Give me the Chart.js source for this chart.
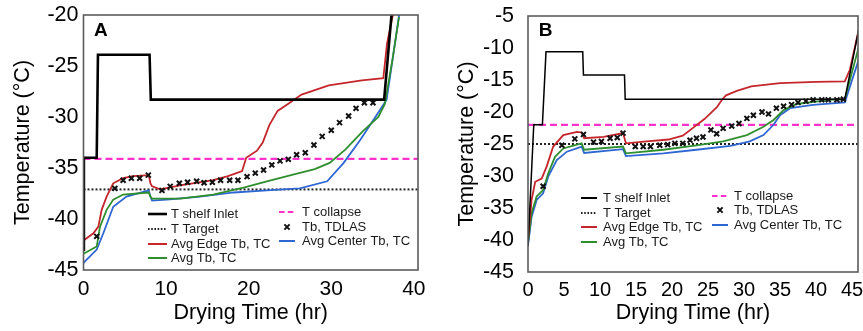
<!DOCTYPE html>
<html><head><meta charset="utf-8">
<script src="https://cdn.jsdelivr.net/npm/chart.js@4.4.1/dist/chart.umd.min.js"></script>
<style>
html,body{margin:0;padding:0;background:#fff;overflow:hidden;width:863px;height:331px;}
canvas{position:absolute;top:0;}
#ca{left:0;width:430px;height:331px;}
#cb{left:430px;width:445px;height:331px;}
</style></head><body>
<canvas id="ca" width="430" height="331"></canvas>
<canvas id="cb" width="445" height="331"></canvas>
<script>
// ---------- Panel A data ----------
const aTicksX = [0, 10, 20, 30, 40];
const aTicksY = [-45, -40, -35, -30, -25, -20];
const aShelfX = [0, 0.05, 1.6, 1.75, 8.0, 8.15, 36.4, 37.4];
const aShelfY = [-43, -34.0, -34.0, -23.9, -23.9, -28.3, -28.3, -19];
const aTargetX = [0, 40.5];
const aTargetY = [-37.1, -37.1];
const aCollapseX = [0, 40.5];
const aCollapseY = [-34.1, -34.1];
const aEdgeX = [0, 1.2, 1.8, 2.2, 2.8, 3.6, 4.8, 6.0, 7.9, 8.1, 8.3, 9.3, 11.7, 15.7, 17.5, 19.2, 19.7, 21.0, 21.7, 22.5, 23.5, 24.8, 26.4, 29.7, 33.7, 36.3, 36.75, 37.4, 37.8];
const aEdgeY = [-42.1, -41.4, -40.75, -39.1, -37.8, -36.5, -36.0, -35.8, -35.7, -36.5, -36.8, -37.1, -36.7, -36.2, -35.8, -35.3, -34.0, -33.3, -32.5, -30.8, -29.4, -28.7, -27.8, -26.9, -26.4, -26.2, -22.8, -20.2, -19];
const aAvgX = [0, 1.6, 2.0, 2.8, 3.6, 4.8, 7.9, 8.1, 8.3, 11.7, 15.7, 19.5, 22.2, 25.6, 28.0, 29.8, 31.7, 33.8, 35.7, 36.5, 37.4, 38.2];
const aAvgY = [-43.4, -42.7, -40.75, -39.1, -38.1, -37.6, -37.4, -37.8, -38.0, -38.0, -37.6, -36.9, -36.3, -35.6, -35.1, -34.5, -33.2, -31.4, -30.0, -28.7, -24.4, -20.2];
const aCenterX = [0, 1.6, 2.4, 3.6, 5.2, 7.9, 8.1, 8.3, 10.1, 14.1, 18.2, 22.2, 26.2, 29.5, 31.5, 33.5, 35.5, 36.7, 37.6, 38.3];
const aCenterY = [-44.3, -43.0, -41.4, -38.8, -37.8, -37.2, -37.8, -38.2, -38.1, -37.8, -37.4, -37.2, -37.0, -36.3, -34.5, -32.25, -29.8, -28.3, -23.4, -19.5];
const aTdlasX = [1.6, 3.8, 4.8, 5.8, 6.8, 7.85, 9.5, 10.5, 11.6, 12.6, 13.7, 14.6, 15.6, 16.6, 17.7, 18.7, 19.8, 20.8, 21.8, 22.8, 23.8, 24.8, 25.8, 26.85, 27.9, 28.9, 30.0, 31.0, 32.1, 33.0, 34.0, 35.05];
const aTdlasY = [-41.7, -37.0, -36.2, -36.0, -36.0, -35.7, -37.2, -36.8, -36.5, -36.4, -36.3, -36.45, -36.4, -36.2, -36.2, -36.2, -35.85, -35.5, -35.2, -34.7, -34.3, -34.15, -33.7, -33.5, -32.75, -31.9, -31.3, -30.55, -29.9, -29.15, -28.6, -28.6];

// ---------- Panel B data ----------
const bTicksX = [0, 5, 10, 15, 20, 25, 30, 35, 40, 45];
const bTicksY = [-45, -40, -35, -30, -25, -20, -15, -10, -5];
const bShelfX = [0, 0.8, 2.0, 2.5, 7.6, 7.7, 13.4, 13.5, 44.0, 45.9];
const bShelfY = [-41, -22, -22, -10.6, -10.6, -14.2, -14.2, -18.0, -18.0, -7.3];
const bTargetX = [0, 45.9];
const bTargetY = [-25, -25];
const bCollapseX = [0, 45.9];
const bCollapseY = [-22, -22];
const bEdgeX = [0, 0.5, 1.0, 1.9, 2.6, 3.5, 4.9, 6.8, 7.45, 7.8, 10.5, 13.2, 13.6, 16.5, 19.5, 21.5, 23.0, 24.5, 26.2, 27.0, 27.5, 29.0, 31.0, 35.0, 40.0, 44.0, 44.7, 45.9];
const bEdgeY = [-40, -33.75, -30.9, -30.4, -28.5, -25.4, -23.6, -23.1, -23.2, -24.1, -23.9, -23.3, -24.9, -24.6, -24.3, -23.7, -22.4, -21.1, -19.3, -18.0, -17.4, -16.7, -16.0, -15.5, -15.3, -15.2, -13.4, -7.3];
const bAvgX = [0, 0.5, 1.2, 2.1, 2.8, 3.75, 4.9, 7.45, 7.8, 13.2, 13.6, 18.8, 23.4, 27.1, 30.4, 32.7, 34.1, 35.5, 37.3, 41.9, 44.0, 45.9];
const bAvgY = [-40.5, -35.8, -33.2, -32.2, -29.6, -27.0, -25.7, -24.9, -25.9, -25.4, -26.45, -25.9, -25.2, -24.6, -23.6, -22.3, -21.25, -19.7, -18.75, -18.1, -18.0, -10.0];
const bCenterX = [0, 0.5, 1.2, 2.1, 2.8, 4.0, 5.4, 7.45, 7.8, 13.2, 13.6, 18.8, 23.4, 28.1, 30.8, 32.7, 34.1, 35.0, 36.4, 39.6, 44.0, 45.9];
const bCenterY = [-40.8, -36.4, -33.75, -32.7, -30.1, -27.5, -26.2, -25.4, -26.4, -25.8, -26.9, -26.45, -25.9, -25.3, -24.6, -23.6, -22.0, -20.5, -19.4, -18.9, -18.5, -11.9];
const bTdlasX = [2.1, 4.7, 6.5, 7.7, 9.1, 10.2, 11.4, 12.4, 13.2, 14.9, 16.0, 17.0, 18.3, 19.4, 20.4, 21.5, 22.5, 23.4, 24.3, 25.4, 26.2, 27.1, 28.3, 29.3, 30.4, 31.3, 32.5, 33.4, 34.5, 35.5, 36.6, 37.5, 38.6, 39.6, 40.8, 41.7, 42.9, 43.8];
const bTdlasY = [-31.6, -25.2, -24.2, -23.5, -24.7, -24.6, -24.1, -24.0, -23.3, -25.4, -25.4, -25.4, -25.2, -25.1, -24.9, -24.9, -24.4, -24.1, -23.9, -22.8, -23.4, -22.55, -22.2, -21.8, -21.0, -20.5, -20.0, -20.3, -19.4, -19.1, -18.85, -18.5, -18.3, -18.1, -18.1, -18.1, -18.1, -18.0];

const seriesLabels = ['T shelf Inlet', 'T Target', 'Avg Edge Tb, TC', 'Avg Tb, TC', 'T collapse', 'Tb, TDLAS', 'Avg Center Tb, TC'];

// ---------- helpers ----------
const F = '"Liberation Sans", Arial, Helvetica, sans-serif';
const pts = (xs, ys) => xs.map((x, i) => ({x: x, y: ys[i]}));
const RED = '#c4262b', GREEN = '#2f8f2f', BLUE = '#2f67d2', PINK = '#ff33cc';

function makeDatasets(d, shelfW) {
  return [
    {label: seriesLabels[0], data: pts(d.shelfX, d.shelfY), borderColor: '#000', borderWidth: shelfW, order: 1},
    {label: seriesLabels[1], data: pts(d.targetX, d.targetY), borderColor: '#222', borderWidth: 2, borderDash: [2, 2], order: 6},
    {label: seriesLabels[2], data: pts(d.edgeX, d.edgeY), borderColor: RED, borderWidth: 1.8, order: 2},
    {label: seriesLabels[3], data: pts(d.avgX, d.avgY), borderColor: GREEN, borderWidth: 1.8, order: 3},
    {label: seriesLabels[4], data: pts(d.colX, d.colY), borderColor: PINK, borderWidth: 2.2, borderDash: [7, 4], order: 5},
    {label: seriesLabels[5], data: pts(d.tdX, d.tdY), borderColor: '#111', showLine: false, pointStyle: 'crossRot', pointRadius: 3.5, pointBorderWidth: 2, order: 0},
    {label: seriesLabels[6], data: pts(d.cenX, d.cenY), borderColor: BLUE, borderWidth: 1.8, order: 4}
  ];
}

const decor = {
  id: 'decor',
  afterDraw(chart, args, o) {
    const {ctx, chartArea: a} = chart;
    ctx.save();
    ctx.strokeStyle = '#5c5c5c';
    ctx.lineWidth = 1.6;
    ctx.setLineDash([]);
    ctx.strokeRect(a.left, a.top, a.right - a.left, a.bottom - a.top);
    ctx.fillStyle = '#000';
    ctx.font = 'bold 19px ' + F;
    ctx.textAlign = 'left';
    ctx.textBaseline = 'alphabetic';
    ctx.fillText(o.letter, o.letterX, o.letterY);
    ctx.font = '13px ' + F;
    ctx.textBaseline = 'middle';
    o.items.forEach(it => {
      const ds = chart.data.datasets[it.i];
      ctx.strokeStyle = ds.borderColor;
      if (ds.showLine === false) {
        const cx = (it.x0 + it.x1) / 2, r = 2.6;
        ctx.setLineDash([]);
        ctx.lineWidth = 2;
        ctx.beginPath();
        ctx.moveTo(cx - r, it.y - r); ctx.lineTo(cx + r, it.y + r);
        ctx.moveTo(cx - r, it.y + r); ctx.lineTo(cx + r, it.y - r);
        ctx.stroke();
      } else {
        ctx.setLineDash(ds.borderDash ? ds.borderDash.map(v => v * 0.8) : []);
        ctx.lineWidth = Math.max(2, ds.borderWidth);
        ctx.beginPath();
        ctx.moveTo(it.x0, it.y); ctx.lineTo(it.x1, it.y);
        ctx.stroke();
      }
      ctx.fillStyle = '#1a1a1a';
      ctx.fillText(ds.label, it.tx, it.y + 0.5);
    });
    ctx.restore();
  }
};

function makeChart(id, d, cfg) {
  return new Chart(document.getElementById(id), {
    type: 'line',
    data: {datasets: makeDatasets(d, cfg.shelfW)},
    options: {
      responsive: false,
      animation: false,
      devicePixelRatio: 1,
      layout: {padding: cfg.pad},
      elements: {point: {radius: 0}, line: {tension: 0}},
      plugins: {
        legend: {display: false},
        tooltip: {enabled: false},
        decor: cfg.decor
      },
      scales: {
        x: {
          type: 'linear', min: cfg.xmin, max: cfg.xmax,
          grid: {display: false, drawTicks: false},
          border: {display: false},
          afterBuildTicks: s => { s.ticks = cfg.ticksX.map(v => ({value: v})); },
          afterFit: s => { s.height = cfg.xh; s.paddingLeft = 0; s.paddingRight = 0; },
          ticks: {color: '#000', font: {size: cfg.xtickSize, family: F}, padding: cfg.xtickPad, maxRotation: 0, autoSkip: false},
          title: {display: true, text: 'Drying Time (hr)', color: '#000', font: {size: 21.5, family: F}, padding: {top: 0, bottom: 5}}
        },
        y: {
          type: 'linear', min: cfg.ymin, max: cfg.ymax,
          grid: {display: false, drawTicks: false},
          border: {display: false},
          afterBuildTicks: s => { s.ticks = cfg.ticksY.map(v => ({value: v})); },
          afterFit: s => { s.width = cfg.yw; s.paddingTop = 0; s.paddingBottom = 0; },
          ticks: {color: '#000', font: {size: 21.5, family: F}, padding: cfg.ytickPad, autoSkip: false},
          title: {display: true, text: 'Temperature (°C)', color: '#000', font: {size: 21.5, family: F}, padding: {top: cfg.ytitlePad, bottom: 0}}
        }
      }
    },
    plugins: [decor]
  });
}

makeChart('ca', {
  shelfX: aShelfX, shelfY: aShelfY, targetX: aTargetX, targetY: aTargetY,
  edgeX: aEdgeX, edgeY: aEdgeY, avgX: aAvgX, avgY: aAvgY, colX: aCollapseX, colY: aCollapseY,
  tdX: aTdlasX, tdY: aTdlasY, cenX: aCenterX, cenY: aCenterY
}, {
  shelfW: 2.6, xmin: 0, xmax: 40.5, ymin: -45, ymax: -20, ticksX: aTicksX, ticksY: aTicksY,
  pad: {left: 0, top: 15, right: 12, bottom: 0}, xh: 61, yw: 83.5, xtickSize: 21, xtickPad: 7, ytickPad: 5, ytitlePad: 10.6,
  decor: {
    letter: 'A', letterX: 94, letterY: 36,
    items: [
      {i: 0, x0: 148, x1: 167, tx: 171, y: 214},
      {i: 1, x0: 148, x1: 167, tx: 171, y: 229},
      {i: 2, x0: 148, x1: 167, tx: 171, y: 244},
      {i: 3, x0: 148, x1: 167, tx: 171, y: 258},
      {i: 4, x0: 279, x1: 295, tx: 302, y: 212},
      {i: 5, x0: 279, x1: 295, tx: 302, y: 227},
      {i: 6, x0: 279, x1: 295, tx: 302, y: 241}
    ]
  }
});

makeChart('cb', {
  shelfX: bShelfX, shelfY: bShelfY, targetX: bTargetX, targetY: bTargetY,
  edgeX: bEdgeX, edgeY: bEdgeY, avgX: bAvgX, avgY: bAvgY, colX: bCollapseX, colY: bCollapseY,
  tdX: bTdlasX, tdY: bTdlasY, cenX: bCenterX, cenY: bCenterY
}, {
  shelfW: 1.5, xmin: 0, xmax: 45.83, ymin: -45, ymax: -5, ticksX: bTicksX, ticksY: bTicksY,
  pad: {left: 0, top: 16, right: 17, bottom: 0}, xh: 59, yw: 98, xtickSize: 20, xtickPad: 6.5, ytickPad: 14, ytitlePad: 24.6,
  decor: {
    letter: 'B', letterX: 108.7, letterY: 36,
    items: [
      {i: 0, x0: 151, x1: 167, tx: 173, y: 198},
      {i: 1, x0: 151, x1: 167, tx: 173, y: 213},
      {i: 2, x0: 151, x1: 167, tx: 173, y: 227},
      {i: 3, x0: 151, x1: 167, tx: 173, y: 242},
      {i: 4, x0: 282, x1: 298, tx: 304, y: 196},
      {i: 5, x0: 282, x1: 298, tx: 304, y: 210},
      {i: 6, x0: 282, x1: 298, tx: 304, y: 225}
    ]
  }
});
</script>
</body></html>
